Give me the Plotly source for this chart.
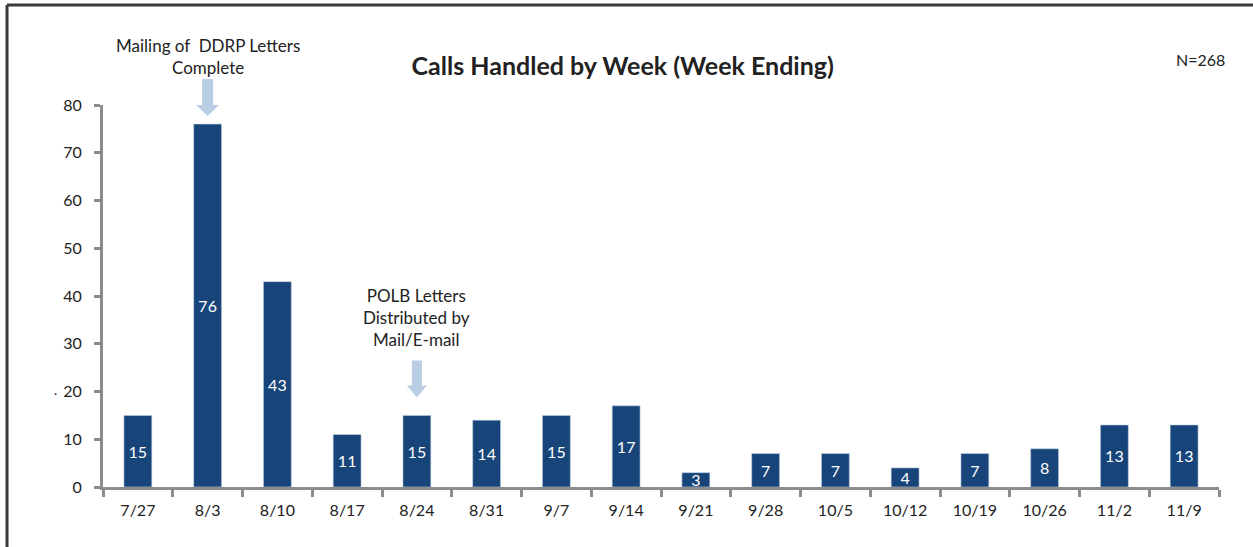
import plotly.graph_objects as go

weeks = ["7/27", "8/3", "8/10", "8/17", "8/24", "8/31", "9/7", "9/14",
         "9/21", "9/28", "10/5", "10/12", "10/19", "10/26", "11/2", "11/9"]
calls = [15, 76, 43, 11, 15, 14, 15, 17, 3, 7, 7, 4, 7, 8, 13, 13]
y_ticks = [0, 10, 20, 30, 40, 50, 60, 70, 80]
y_max = 80

title_text = "Calls Handled by Week (Week Ending)"
note_n = "N=268"
note_ddrp = "Mailing of  DDRP Letters<br>Complete"
note_polb = "POLB Letters<br>Distributed by<br>Mail/E-mail"
ddrp_week, polb_week = "8/3", "8/24"

FONT = "Lato"
BAR = "#17457a"
AXIS = "#8c8c8c"
ARROW = "#b9cde5"
TXT = "#222222"

fig = go.Figure()
fig.add_trace(go.Bar(
    x=weeks, y=calls,
    marker=dict(color=BAR, line=dict(color="#c5d1e0", width=0.6)),
    text=[str(v) for v in calls],
    textposition="inside", insidetextanchor="middle", textangle=0,
    textfont=dict(color="white", size=16, family=FONT),
    constraintext="none",
    hoverinfo="x+y",
))

# block arrows drawn as pixel-sized paths anchored above the bars
def block_arrow(week, value, gap, shaft_w, shaft_len, head_w, head_len):
    hs, hh = shaft_w / 2, head_w / 2
    tip = gap
    base = gap + head_len
    top = base + shaft_len
    path = (f"M {-hs},{top} L {hs},{top} L {hs},{base} L {hh},{base} "
            f"L 0,{tip} L {-hh},{base} L {-hs},{base} Z")
    fig.add_shape(type="path", path=path, xref="x", yref="paper",
                  xsizemode="pixel", ysizemode="pixel",
                  xanchor=week, yanchor=value / y_max,
                  fillcolor=ARROW, line=dict(width=0))

block_arrow(ddrp_week, calls[weeks.index(ddrp_week)], 8, 11, 26, 23, 11)
block_arrow(polb_week, calls[weeks.index(polb_week)], 18, 10, 25, 20, 12)

fig.add_annotation(x=ddrp_week, y=1.126, xref="x", yref="paper",
                   xanchor="center", yanchor="middle",
                   text=note_ddrp, showarrow=False,
                   font=dict(family=FONT, size=17, color=TXT))
fig.add_annotation(x=polb_week, y=0.445, xref="x", yref="paper",
                   xanchor="center", yanchor="middle",
                   text=note_polb, showarrow=False,
                   font=dict(family=FONT, size=17, color=TXT))
fig.add_annotation(x=0.983, y=1.118, xref="paper", yref="paper",
                   xanchor="center", yanchor="middle",
                   text=note_n, showarrow=False,
                   font=dict(family=FONT, size=16, color=TXT))
fig.add_annotation(x=-0.043, y=0.246, xref="paper", yref="paper",
                   xanchor="center", yanchor="middle",
                   text="·", showarrow=False,
                   font=dict(family=FONT, size=12, color=TXT))

# outer frame (top and left edges)
fig.add_shape(type="line", xref="paper", yref="paper",
              x0=-0.086, x1=1.05, y0=1.2618, y1=1.2618,
              line=dict(color="#3a3a3a", width=3))
fig.add_shape(type="line", xref="paper", yref="paper",
              x0=-0.086, x1=-0.086, y0=1.2618, y1=-0.2,
              line=dict(color="#3a3a3a", width=3))

fig.update_layout(
    width=1253, height=547,
    margin=dict(l=103, r=34, t=105, b=60),
    paper_bgcolor="white", plot_bgcolor="white",
    bargap=0.6,
    showlegend=False,
    title=dict(text=f"<b>{title_text}</b>", x=0.497, xanchor="center",
               y=0.879, yanchor="middle",
               font=dict(family=FONT, size=25, color=TXT)),
    font=dict(family=FONT, color=TXT),
    uniformtext=dict(minsize=16, mode="show"),
)
fig.update_xaxes(
    type="category", showline=True, linecolor=AXIS, linewidth=3,
    ticks="outside", tickson="boundaries", ticklen=7, tickwidth=3,
    tickcolor=AXIS, showgrid=False, zeroline=False,
    tickfont=dict(family=FONT, size=16, color=TXT),
    ticklabelstandoff=7,
)
fig.update_yaxes(
    range=[0, y_max], tickvals=y_ticks, showline=True, linecolor=AXIS,
    linewidth=3, ticks="outside", ticklen=6, tickwidth=3, tickcolor=AXIS,
    showgrid=False, zeroline=False,
    tickfont=dict(family=FONT, size=16, color=TXT),
    ticklabelstandoff=9,
)

fig.write_html("out.html", config={"displayModeBar": False},
               post_script="document.body.style.margin='0';")
